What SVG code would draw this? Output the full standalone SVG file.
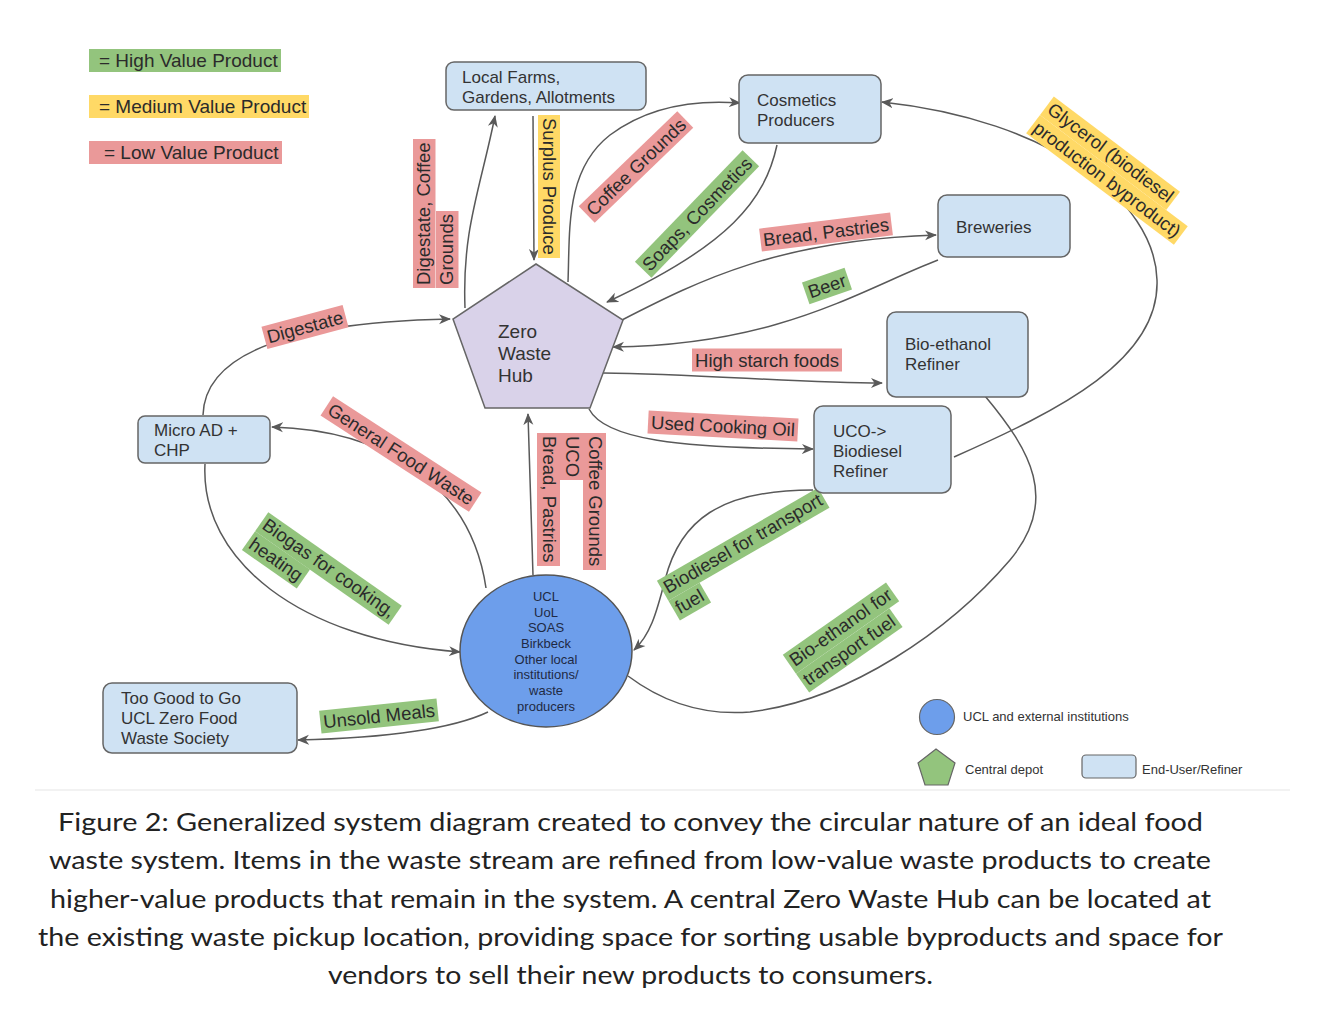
<svg xmlns="http://www.w3.org/2000/svg" width="1324" height="1012" viewBox="0 0 1324 1012">
<style>
.node rect{fill:#cfe2f3;stroke:#666;stroke-width:1.5}
.nt{font-family:"Liberation Sans",Arial,sans-serif;font-size:17px;fill:#333}
.lbl{font-family:"Liberation Sans",Arial,sans-serif;font-size:18.5px;fill:#2b2b2b}
.leg{font-family:"Liberation Sans",Arial,sans-serif;font-size:19px;fill:#2b2b2b}
.small{font-family:"Liberation Sans",Arial,sans-serif;font-size:13px;fill:#333}
.g{fill:#93c47d}.y{fill:#ffd966}.r{fill:#ea9999}
.conn path{fill:none;stroke:#595959;stroke-width:1.5}
.cap{font-family:Lato,"Open Sans",sans-serif;font-size:25px;fill:#222}
</style>
<defs>
<marker id="ah" markerUnits="userSpaceOnUse" markerWidth="13" markerHeight="11" refX="11" refY="5" orient="auto" viewBox="0 0 13 10">
<path d="M0,0 L12,5 L0,10 L3.5,5 z" fill="#595959"/>
</marker>
</defs>
<rect width="1324" height="1012" fill="#fff"/>

<g id="legend-top">
<rect x="89" y="49" width="192" height="23" class="g"/>
<text x="99" y="67" class="leg">= High Value Product</text>
<rect x="89" y="95" width="220" height="23" class="y"/>
<text x="99" y="113" class="leg">= Medium Value Product</text>
<rect x="89" y="141" width="193" height="23" class="r"/>
<text x="104" y="159" class="leg">= Low Value Product</text>
</g>

<g class="conn" id="connectors">
<path d="M533 116 L534 260" marker-end="url(#ah)"/>
<path d="M465 308 C462 230 480 190 495 116" marker-end="url(#ah)"/>
<path d="M568 282 C570 230 565 170 610 135 C650 105 700 100 740 103" marker-end="url(#ah)"/>
<path d="M777 145 C765 200 730 245 607 302" marker-end="url(#ah)"/>
<path d="M622 320 C700 280 780 240 936 235" marker-end="url(#ah)"/>
<path d="M938 260 C860 290 780 345 613 347" marker-end="url(#ah)"/>
<path d="M603 373 C700 374 800 383 882 383" marker-end="url(#ah)"/>
<path d="M589 409 C605 440 680 448 813 449" marker-end="url(#ah)"/>
<path d="M954 457 C1060 410 1160 360 1157 280 C1155 200 1050 120 882 102" marker-end="url(#ah)"/>
<path d="M985 396 C1030 450 1060 500 1010 560 C950 630 850 700 750 712 C700 716 660 700 628 676"/>
<path d="M813 490 C720 490 680 520 665 580 C656 615 650 635 634 650" marker-end="url(#ah)"/>
<path d="M533 575 L528 414" marker-end="url(#ah)"/>
<path d="M486 588 C470 480 380 430 272 427" marker-end="url(#ah)"/>
<path d="M203 415 C205 350 300 322 450 319" marker-end="url(#ah)"/>
<path d="M205 464 C200 560 300 640 460 652" marker-end="url(#ah)"/>
<path d="M488 712 C450 730 380 738 298 740" marker-end="url(#ah)"/>
</g>

<g id="labels">
<g transform="translate(543,118) rotate(90)"><rect x="-3" y="-17" width="143" height="22" class="y"/><text x="0" y="0" class="lbl">Surplus Produce</text></g>
<g transform="translate(430,285) rotate(-90)">
<rect x="-3" y="-17" width="149" height="22.5" class="r"/><text x="0" y="0" class="lbl">Digestate, Coffee</text>
<rect x="-3" y="6" width="77" height="22.5" class="r"/><text x="0" y="23" class="lbl">Grounds</text>
</g>
<g transform="translate(636,167) rotate(-44)"><rect x="-68.5" y="-11.5" width="137" height="23" class="r"/><text x="0" y="6.5" class="lbl" text-anchor="middle">Coffee Grounds</text></g>
<g transform="translate(697,214) rotate(-46)"><rect x="-77.5" y="-11.5" width="155" height="23" class="g"/><text x="0" y="6.5" class="lbl" text-anchor="middle">Soaps, Cosmetics</text></g>
<g transform="translate(826,232) rotate(-7)"><rect x="-66" y="-11.5" width="132" height="23" class="r"/><text x="0" y="6.5" class="lbl" text-anchor="middle">Bread, Pastries</text></g>
<g transform="translate(827,286) rotate(-19)"><rect x="-22.5" y="-11.5" width="45" height="23" class="g"/><text x="0" y="6.5" class="lbl" text-anchor="middle">Beer</text></g>
<g transform="translate(767,360)"><rect x="-75" y="-11.5" width="150" height="23" class="r"/><text x="0" y="6.5" class="lbl" text-anchor="middle">High starch foods</text></g>
<g transform="translate(723,426) rotate(3)"><rect x="-75" y="-11.5" width="150" height="23" class="r"/><text x="0" y="6.5" class="lbl" text-anchor="middle">Used Cooking Oil</text></g>
<g transform="translate(1046,112) rotate(37)">
<rect x="-3" y="-17" width="158" height="23" class="y"/><text x="0" y="0" class="lbl">Glycerol (biodiesel</text>
<rect x="-3" y="6" width="185" height="23" class="y"/><text x="0" y="23.5" class="lbl">production byproduct)</text>
</g>
<g transform="translate(795,667) rotate(-35)">
<rect x="-3" y="-17" width="126" height="23" class="g"/><text x="0" y="0" class="lbl">Bio-ethanol for</text>
<rect x="-3" y="6" width="114" height="23" class="g"/><text x="0" y="23.5" class="lbl">transport fuel</text>
</g>
<g transform="translate(668,594) rotate(-30)">
<rect x="-3" y="-17" width="186" height="23" class="g"/><text x="0" y="0" class="lbl">Biodiesel for transport</text>
<rect x="-3" y="6" width="36" height="23" class="g"/><text x="0" y="23.5" class="lbl">fuel</text>
</g>
<g transform="translate(589,436) rotate(90)"><rect x="-3" y="-17" width="137" height="23" class="r"/><text x="0" y="0" class="lbl">Coffee Grounds</text></g>
<g transform="translate(566,436) rotate(90)"><rect x="-3" y="-17" width="47" height="23" class="r"/><text x="0" y="0" class="lbl">UCO</text></g>
<g transform="translate(543,436) rotate(90)"><rect x="-3" y="-17" width="133" height="23" class="r"/><text x="0" y="0" class="lbl">Bread, Pastries</text></g>
<g transform="translate(401,454) rotate(33)"><rect x="-88.5" y="-11.5" width="177" height="23" class="r"/><text x="0" y="6.5" class="lbl" text-anchor="middle">General Food Waste</text></g>
<g transform="translate(305,327) rotate(-15)"><rect x="-42" y="-11.5" width="84" height="23" class="r"/><text x="0" y="6.5" class="lbl" text-anchor="middle">Digestate</text></g>
<g transform="translate(261,528) rotate(35)">
<rect x="-3" y="-17" width="163" height="23" class="g"/><text x="0" y="0" class="lbl">Biogas for cooking,</text>
<rect x="-3" y="6" width="67" height="23" class="g"/><text x="0" y="23.5" class="lbl">heating</text>
</g>
<g transform="translate(379,716) rotate(-6)"><rect x="-59" y="-11.5" width="118" height="23" class="g"/><text x="0" y="6.5" class="lbl" text-anchor="middle">Unsold Meals</text></g>
</g>

<g id="hub">
<polygon points="536,264 623,320 590,408 485,408 453,319" fill="#d9d2e9" stroke="#666" stroke-width="1.5"/>
<text x="498" y="338" class="nt" style="font-size:19px">Zero</text>
<text x="498" y="360" class="nt" style="font-size:19px">Waste</text>
<text x="498" y="382" class="nt" style="font-size:19px">Hub</text>
</g>

<g id="institutions">
<ellipse cx="546" cy="651" rx="86" ry="76" fill="#6d9eeb" stroke="#555" stroke-width="1.5"/>
<g class="small" text-anchor="middle" style="fill:#1f2a44">
<text x="546" y="601">UCL</text>
<text x="546" y="617">UoL</text>
<text x="546" y="632">SOAS</text>
<text x="546" y="648">Birkbeck</text>
<text x="546" y="664">Other local</text>
<text x="546" y="679">institutions/</text>
<text x="546" y="695">waste</text>
<text x="546" y="711">producers</text>
</g>
</g>

<g id="local-farms" class="node"><rect x="446" y="62" width="200" height="48" rx="8"/>
<text x="462" y="83" class="nt">Local Farms,</text><text x="462" y="103" class="nt">Gardens, Allotments</text></g>
<g id="cosmetics" class="node"><rect x="739" y="75" width="142" height="68" rx="9"/>
<text x="757" y="106" class="nt">Cosmetics</text><text x="757" y="126" class="nt">Producers</text></g>
<g id="breweries" class="node"><rect x="938" y="195" width="132" height="62" rx="9"/>
<text x="956" y="233" class="nt">Breweries</text></g>
<g id="bioethanol" class="node"><rect x="887" y="312" width="141" height="85" rx="9"/>
<text x="905" y="350" class="nt">Bio-ethanol</text><text x="905" y="370" class="nt">Refiner</text></g>
<g id="uco" class="node"><rect x="814" y="406" width="137" height="87" rx="9"/>
<text x="833" y="437" class="nt">UCO-&gt;</text><text x="833" y="457" class="nt">Biodiesel</text><text x="833" y="477" class="nt">Refiner</text></g>
<g id="microad" class="node"><rect x="138" y="416" width="132" height="47" rx="7"/>
<text x="154" y="436" class="nt">Micro AD +</text><text x="154" y="456" class="nt">CHP</text></g>
<g id="toogood" class="node"><rect x="103" y="683" width="194" height="70" rx="9"/>
<text x="121" y="704" class="nt">Too Good to Go</text><text x="121" y="724" class="nt">UCL Zero Food</text><text x="121" y="744" class="nt">Waste Society</text></g>

<g id="legend-bottom">
<circle cx="937" cy="717" r="17.5" fill="#6d9eeb" stroke="#666" stroke-width="1.2"/>
<text x="963" y="721" class="small">UCL and external institutions</text>
<polygon points="936,749 955,763 948,785 925,785 918,763" fill="#93c47d" stroke="#666" stroke-width="1.2"/>
<text x="965" y="774" class="small">Central depot</text>
<rect x="1082" y="755" width="54" height="23" rx="4" fill="#cfe2f3" stroke="#666" stroke-width="1.2"/>
<text x="1142" y="774" class="small">End-User/Refiner</text>
</g>

<line x1="35" y1="790" x2="1290" y2="790" stroke="#eeeeee" stroke-width="1.5"/>

<g id="caption">
<text x="58" y="831" class="cap" textLength="1145" lengthAdjust="spacingAndGlyphs">Figure 2: Generalized system diagram created to convey the circular nature of an ideal food</text>
<text x="49" y="869" class="cap" textLength="1162" lengthAdjust="spacingAndGlyphs">waste system. Items in the waste stream are refined from low-value waste products to create</text>
<text x="50" y="908" class="cap" textLength="1161" lengthAdjust="spacingAndGlyphs">higher-value products that remain in the system. A central Zero Waste Hub can be located at</text>
<text x="38" y="946" class="cap" textLength="1185" lengthAdjust="spacingAndGlyphs">the existing waste pickup location, providing space for sorting usable byproducts and space for</text>
<text x="328" y="984" class="cap" textLength="605" lengthAdjust="spacingAndGlyphs">vendors to sell their new products to consumers.</text>
</g>
</svg>
